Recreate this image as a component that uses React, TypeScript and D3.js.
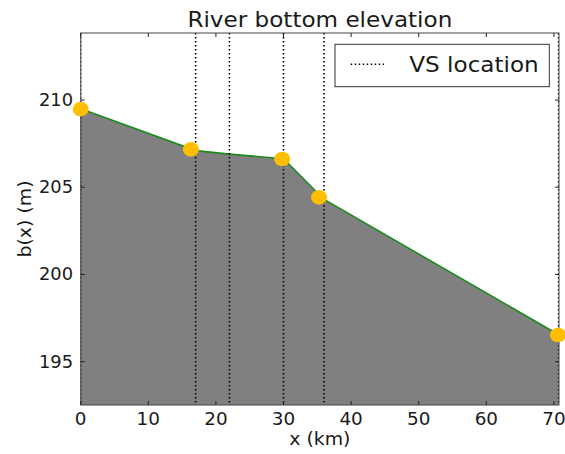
import React from "react";
import * as d3 from "d3";

// Verification-section (VS) locations along the river, km
const vsLocations = [0, 17, 22, 30, 36, 70.7];

// Interpolated bed profile through the VS locations
const profileKm = [0, 17, 22, 30, 36, 70.7];
const profileElev = [209.5, 207.1, 206.9, 206.63, 204.3, 196.55];

// Surveyed bed elevations
const surveyKm = [0, 16.3, 29.8, 35.25, 70.6];
const surveyElev = [209.48, 207.17, 206.62, 204.42, 196.53];

const xTicks = [0, 10, 20, 30, 40, 50, 60, 70];
const yTicks = [195, 200, 205, 210];

const W = 565;
const H = 454;
const M = { left: 80.7, right: 559, top: 33, bottom: 405 };
const FONT = "DejaVu Sans, sans-serif";
const STRETCH = 1.05;

type LabelProps = {
  x: number;
  y: number;
  size: number;
  anchor?: "start" | "middle" | "end";
  rotate?: number;
  baseline?: string;
  children: React.ReactNode;
};

// Text with a slight horizontal widening of the glyphs
function Label({ x, y, size, anchor = "start", rotate = 0, baseline, children }: LabelProps) {
  return (
    <g transform={`translate(${x},${y}) rotate(${rotate}) scale(${STRETCH},1)`}>
      <text
        x={0}
        y={0}
        fontSize={size}
        textAnchor={anchor}
        dominantBaseline={baseline}
        fill="#1a1a1a"
      >
        {children}
      </text>
    </g>
  );
}

export default function App() {
  const x = d3.scaleLinear().domain([0, 70.75]).range([M.left, M.right]);
  const y = d3.scaleLinear().domain([192.52, 213.84]).range([M.bottom, M.top]);

  const profile = profileKm.map((k, i) => [k, profileElev[i]] as [number, number]);

  const area = d3
    .area<[number, number]>()
    .x((d) => x(d[0]))
    .y0(y(192.52))
    .y1((d) => y(d[1]));
  const line = d3
    .line<[number, number]>()
    .x((d) => x(d[0]))
    .y((d) => y(d[1]));

  const tickLen = 4;
  const dash = "1.5,2.5";

  return (
    <svg
      width={W}
      height={H}
      style={{ position: "absolute", left: 0, top: 0, background: "#fff" }}
      fontFamily={FONT}
    >
      <defs>
        <clipPath id="plotArea">
          <rect x={M.left} y={M.top} width={M.right - M.left} height={M.bottom - M.top} />
        </clipPath>
      </defs>

      <g clipPath="url(#plotArea)">
        <path d={area(profile) ?? ""} fill="#808080" />
        <path d={line(profile) ?? ""} fill="none" stroke="#1e8a1e" strokeWidth={1.6} />
        {vsLocations.map((k, i) => (
          <line
            key={i}
            x1={x(k)}
            x2={x(k)}
            y1={M.top}
            y2={M.bottom}
            stroke="#000"
            strokeWidth={1.6}
            strokeDasharray={dash}
          />
        ))}
      </g>

      {/* frame */}
      <rect
        x={M.left}
        y={M.top}
        width={M.right - M.left}
        height={M.bottom - M.top}
        fill="none"
        stroke="#444"
        strokeWidth={1}
      />

      {/* ticks, pointing inward on all sides */}
      {xTicks.map((t) => (
        <g key={"x" + t}>
          <line x1={x(t)} x2={x(t)} y1={M.bottom} y2={M.bottom - tickLen} stroke="#222" />
          <line x1={x(t)} x2={x(t)} y1={M.top} y2={M.top + tickLen} stroke="#222" />
          <Label x={x(t)} y={425} size={17.5} anchor="middle">
            {t}
          </Label>
        </g>
      ))}
      {yTicks.map((t) => (
        <g key={"y" + t}>
          <line x1={M.left} x2={M.left + tickLen} y1={y(t)} y2={y(t)} stroke="#222" />
          <line x1={M.right} x2={M.right - tickLen} y1={y(t)} y2={y(t)} stroke="#222" />
          <Label x={73} y={y(t)} size={17} anchor="end" baseline="central">
            {t}
          </Label>
        </g>
      ))}

      {/* surveyed points */}
      {surveyKm.map((k, i) => (
        <ellipse key={i} cx={x(k)} cy={y(surveyElev[i])} rx={8} ry={7.3} fill="#FFBF00" />
      ))}

      {/* legend */}
      <rect x={335} y={44.3} width={214.3} height={42.4} fill="#fff" stroke="#333" strokeWidth={1} />
      <line x1={350.7} x2={384} y1={64.3} y2={64.3} stroke="#000" strokeWidth={1.5} strokeDasharray={dash} />
      <Label x={409.3} y={71.7} size={22}>
        VS location
      </Label>

      {/* titles */}
      <Label x={(M.left + M.right) / 2} y={27} size={22} anchor="middle">
        River bottom elevation
      </Label>
      <Label x={(M.left + M.right) / 2} y={445} size={18} anchor="middle">
        x (km)
      </Label>
      <Label x={31} y={(M.top + M.bottom) / 2} size={18} anchor="middle" rotate={-90}>
        b(x) (m)
      </Label>
    </svg>
  );
}
